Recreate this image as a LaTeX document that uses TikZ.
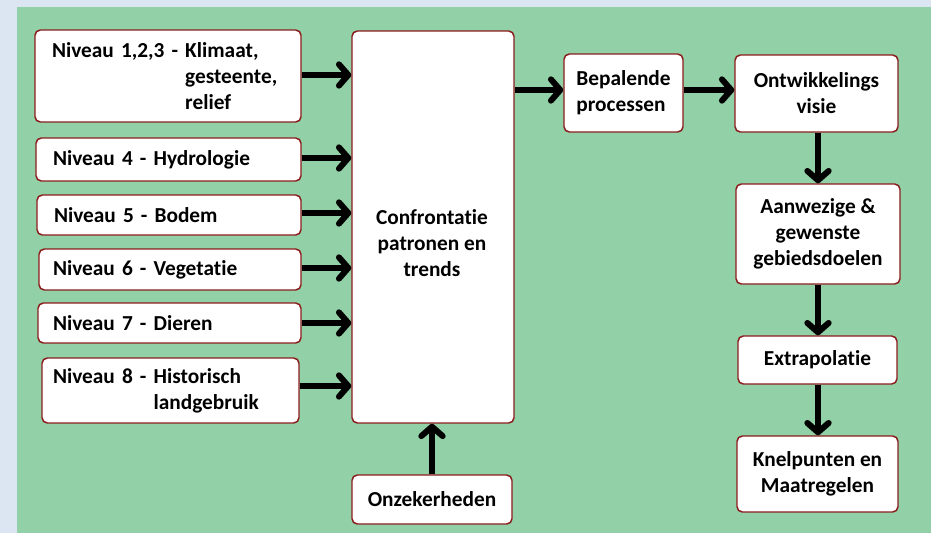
\documentclass[tikz,border=0pt]{standalone}
\usepackage{fontspec}
\setmainfont{Carlito}[Ligatures=CommonOff]
\usetikzlibrary{arrows.meta}
\definecolor{outerbg}{RGB}{220,230,242}
\definecolor{greenbg}{RGB}{146,208,167}
\definecolor{boxline}{RGB}{139,28,28}
\newcommand\pxu{0.75pt}
\begin{document}
\begin{tikzpicture}[x=0.75pt,y=-0.75pt,
  box/.style={draw=boxline, line width=1.1pt, fill=white, rounded corners=4pt,
    font=\fontsize{16}{19.5}\selectfont\bfseries, inner sep=0pt},
  lbox/.style={box, align=left, inner xsep=12.75pt},
  cbox/.style={box, align=center},
  flow/.style={line width=4.5pt, -{Straight Barb[length=7pt,width=16pt,round]}},
  txt/.style={font=\fontsize{16}{19.5}\selectfont\bfseries, align=center, inner sep=0pt}]
\useasboundingbox (0,0) rectangle (931,533);
\fill[outerbg] (0,0) rectangle (931,533);
\fill[greenbg] (17,7) rectangle (931,533);
% left column
\node[lbox, minimum width=266*\pxu, minimum height=92*\pxu, text width=266*\pxu-25.5pt] (n123) at (168,76)
  {Niveau 1,2,3 - Klimaat,\\\hphantom{Niveau 1,2,3 - }gesteente,\\\hphantom{Niveau 1,2,3 - }relief};
\node[lbox, minimum width=265*\pxu, minimum height=43*\pxu, text width=265*\pxu-25.5pt] (n4) at (168.5,159.5) {Niveau 4 - Hydrologie};
\node[lbox, minimum width=264*\pxu, minimum height=40*\pxu, text width=264*\pxu-25.5pt] (n5) at (169,215) {Niveau 5 - Bodem};
\node[lbox, minimum width=262*\pxu, minimum height=41*\pxu, text width=262*\pxu-21pt, inner xsep=10.5pt] (n6) at (170,269.5) {Niveau 6 - Vegetatie};
\node[lbox, minimum width=263*\pxu, minimum height=40*\pxu, text width=263*\pxu-22.5pt, inner xsep=11.25pt] (n7) at (169.5,323) {Niveau 7 - Dieren};
\node[lbox, minimum width=257*\pxu, minimum height=65*\pxu, text width=257*\pxu-16.5pt, inner xsep=8.25pt] (n8) at (170.5,390.5)
  {Niveau 8 - Historisch\\\hphantom{Niveau 8 - }landgebruik};
% centre
\node[box, minimum width=162*\pxu, minimum height=392*\pxu] (conf) at (433,227) {};
\node[txt] (conftext) at (432,243) {Confrontatie\\patronen en\\trends};
\node[cbox, minimum width=160*\pxu, minimum height=49*\pxu] (onz) at (432,499.5) {Onzekerheden};
% right
\node[box, align=left, minimum width=119*\pxu, minimum height=78*\pxu] (bep) at (623.5,93) {Bepalende\\processen};
\node[cbox, minimum width=163*\pxu, minimum height=77*\pxu] (ont) at (816.5,93.5) {Ontwikkelings\hspace{0.5em}\\visie};
\node[cbox, minimum width=164*\pxu, minimum height=100*\pxu] (aan) at (818,234) {Aanwezige \&\\gewenste\hspace{0.7em}\\gebiedsdoelen};
\node[cbox, minimum width=159*\pxu, minimum height=48*\pxu] (ext) at (817.5,360) {Extrapolatie};
\node[cbox, minimum width=161*\pxu, minimum height=76*\pxu] (kne) at (817.5,474) {Knelpunten en\\Maatregelen};
% connectors
\draw[flow] (n123.east |- 0,75) -- (conf.west |- 0,75);
\draw[flow] (n4.east |- 0,158) -- (conf.west |- 0,158);
\draw[flow] (n5.east |- 0,213) -- (conf.west |- 0,213);
\draw[flow] (n6.east |- 0,268) -- (conf.west |- 0,268);
\draw[flow] (n7.east |- 0,323) -- (conf.west |- 0,323);
\draw[flow] (n8.east |- 0,386) -- (conf.west |- 0,386);
\draw[flow] (onz.north) -- (onz.north |- conf.south);
\draw[flow] (conf.east |- 0,90) -- (bep.west |- 0,90);
\draw[flow] (bep.east |- 0,90) -- (ont.west |- 0,90);
\draw[flow] (ont.south -| 818,0) -- (aan.north -| 818,0);
\draw[flow] (aan.south -| 818,0) -- (ext.north -| 818,0);
\draw[flow] (ext.south -| 818,0) -- (kne.north -| 818,0);
\end{tikzpicture}
\end{document}
